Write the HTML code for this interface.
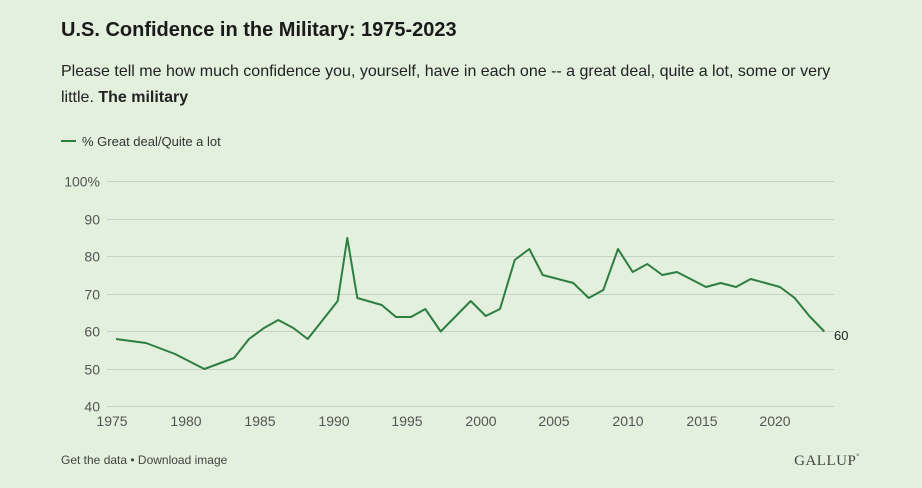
<!DOCTYPE html>
<html><head><meta charset="utf-8"><style>
body{margin:0;background:#e2f0dd;width:922px;height:488px;overflow:hidden;font-family:"Liberation Sans",sans-serif;color:#222}
.t{position:absolute;left:61px;top:19px;font-size:20px;font-weight:bold;color:#1a1a1a}
.s{position:absolute;left:61px;top:59px;width:800px;font-size:16px;line-height:26px;color:#222}
</style></head><body>
<div class="t">U.S. Confidence in the Military: 1975-2023</div>
<div class="s">Please tell me how much confidence you, yourself, have in each one -- a great deal, quite a lot, some or very little. <b>The military</b></div>
<svg width="922" height="488" style="position:absolute;left:0;top:0" font-family="Liberation Sans, sans-serif">
<line x1="61" y1="141" x2="76" y2="141" stroke="#2e7d43" stroke-width="2"/>
<text x="82" y="146" font-size="13" fill="#333">% Great deal/Quite a lot</text>
<g stroke="#c5d3c2" stroke-width="1">
<line x1="107" x2="834" y1="181.5" y2="181.5"/><line x1="107" x2="834" y1="219.5" y2="219.5"/>
<line x1="107" x2="834" y1="256.5" y2="256.5"/><line x1="107" x2="834" y1="294.5" y2="294.5"/>
<line x1="107" x2="834" y1="331.5" y2="331.5"/><line x1="107" x2="834" y1="369.5" y2="369.5"/>
<line x1="107" x2="834" y1="406.5" y2="406.5"/></g>
<g font-size="14" fill="#555" text-anchor="end">
<text x="100" y="186.5">100%</text><text x="100" y="224.5">90</text><text x="100" y="261.5">80</text>
<text x="100" y="299.5">70</text><text x="100" y="336.5">60</text><text x="100" y="374.5">50</text><text x="100" y="411.5">40</text></g>
<g font-size="14" fill="#555" text-anchor="middle">
<text x="112" y="426">1975</text><text x="186" y="426">1980</text><text x="260" y="426">1985</text>
<text x="334" y="426">1990</text><text x="407" y="426">1995</text><text x="481" y="426">2000</text>
<text x="554" y="426">2005</text><text x="628" y="426">2010</text><text x="702" y="426">2015</text><text x="775" y="426">2020</text></g>
<polyline fill="none" stroke="#2e7d43" stroke-width="2" stroke-linejoin="round" points="116,339 146,343 175,354 204.3,369 234,358 249,339 264,328 278.3,320 293.3,328 307.7,339 337.7,301 347.3,238 357.3,298 381.7,305 396,317 411,317 425.3,309 440.7,331.5 470.7,301 485.7,316 500,309 514.7,260 529.3,249 542.7,275 573.3,283 588.7,298 603.3,290 618,249 632.7,272 647.3,264 662.3,275 677,272 706,287 720.7,283 736,287 750.7,279 780,287 794.7,298 809.3,316 824.3,331.5"/>
<text x="834" y="340" font-size="13" fill="#222">60</text>
<text x="61" y="464" font-size="12" fill="#444">Get the data • Download image</text>
<text x="860" y="465" font-size="15" fill="#444" text-anchor="end" font-family="Liberation Serif, serif" letter-spacing="0.5">GALLUP<tspan font-size="8" dy="-6">°</tspan></text>
</svg>
</body></html>
